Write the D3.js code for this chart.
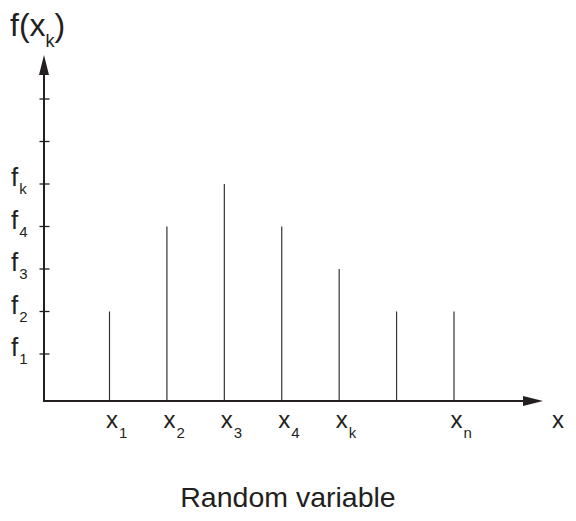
<!DOCTYPE html>
<html>
<head>
<meta charset="utf-8">
<script src="https://cdn.jsdelivr.net/npm/d3@7"></script>
<style>
  html, body { margin: 0; padding: 0; background: #fff; }
  svg { display: block; font-family: "Liberation Sans", Arial, Helvetica, sans-serif; }
</style>
</head>
<body>
<svg id="chart" width="576" height="521"></svg>
<script>
// ---- data ----
const xSubscripts = ["1", "2", "3", "4", "k", "", "n"];   // x_1 ... x_n
const barLevels   = [2, 4, 5, 4, 3, 2, 2];                 // f level of each bar
const yTickValues = [1, 2, 3, 4, 5, 6, 7];
const ySubscripts = ["1", "2", "3", "4", "k", "", ""];     // f_1 ... f_k
const xAxisTitle  = "Random variable";

// ---- layout ----
const originX = 44, originY = 401;
const xEnd = 543, yEnd = 55;
const ink = "#231f20";

const svg = d3.select("#chart");

const x = d3.scaleLinear().domain([0, xSubscripts.length - 1]).range([109.5, 454]);
const y = d3.scaleLinear().domain([1, 7]).range([354, 99]);

// bars (stems)
svg.append("g").selectAll("line").data(barLevels).join("line")
  .attr("x1", (d, i) => x(i)).attr("x2", (d, i) => x(i))
  .attr("y1", originY).attr("y2", d => y(d))
  .attr("stroke", "#333").attr("stroke-width", 1.2);

// y ticks
svg.append("g").selectAll("line").data(yTickValues).join("line")
  .attr("x1", originX - 4.5).attr("x2", originX + 5.5)
  .attr("y1", d => y(d)).attr("y2", d => y(d))
  .attr("stroke", ink).attr("stroke-width", 1.3);

// axes
svg.append("line").attr("x1", originX).attr("x2", originX)
  .attr("y1", originY + 1).attr("y2", yEnd + 10)
  .attr("stroke", ink).attr("stroke-width", 2);
svg.append("line").attr("x1", originX - 1).attr("x2", xEnd - 10)
  .attr("y1", originY).attr("y2", originY)
  .attr("stroke", ink).attr("stroke-width", 2);

// arrowheads
svg.append("path")
  .attr("d", `M${originX},${yEnd} L${originX + 5},${yEnd + 20} L${originX - 5},${yEnd + 20} Z`)
  .attr("fill", ink);
svg.append("path")
  .attr("d", `M${xEnd},${originY} L${xEnd - 20},${originY - 5} L${xEnd - 20},${originY + 5} Z`)
  .attr("fill", ink);

// x tick labels
const xl = svg.append("g").selectAll("text")
  .data(xSubscripts.map((s, i) => ({ s, i })).filter(d => d.s !== ""))
  .join("text")
  .attr("x", d => x(d.i) - 3.5).attr("y", 428)
  .attr("font-size", 24).attr("fill", ink);
xl.append("tspan").text("x");
xl.append("tspan").attr("dx", 1).attr("dy", 10).attr("font-size", 15).text(d => d.s);

// y tick labels
const yl = svg.append("g").selectAll("text")
  .data(yTickValues.map((v, i) => ({ v, s: ySubscripts[i] })).filter(d => d.s !== ""))
  .join("text")
  .attr("x", 11).attr("y", d => y(d.v) + 2)
  .attr("font-size", 26).attr("fill", ink);
yl.append("tspan").text("f");
yl.append("tspan").attr("dx", 1).attr("dy", 8).attr("font-size", 15).text(d => d.s);

// axis variable labels
svg.append("text").attr("x", 558).attr("y", 428).attr("text-anchor", "middle")
  .attr("font-size", 24).attr("fill", ink).text("x");

const yt = svg.append("text").attr("x", 10).attr("y", 36)
  .attr("font-size", 32).attr("fill", ink);
yt.append("tspan").text("f(x");
yt.append("tspan").attr("dy", 11).attr("font-size", 18).text("k");
yt.append("tspan").attr("dy", -11).text(")");

svg.append("text").attr("x", 288).attr("y", 507).attr("text-anchor", "middle")
  .attr("font-size", 28.5).attr("fill", ink).text(xAxisTitle);
</script>
</body>
</html>
